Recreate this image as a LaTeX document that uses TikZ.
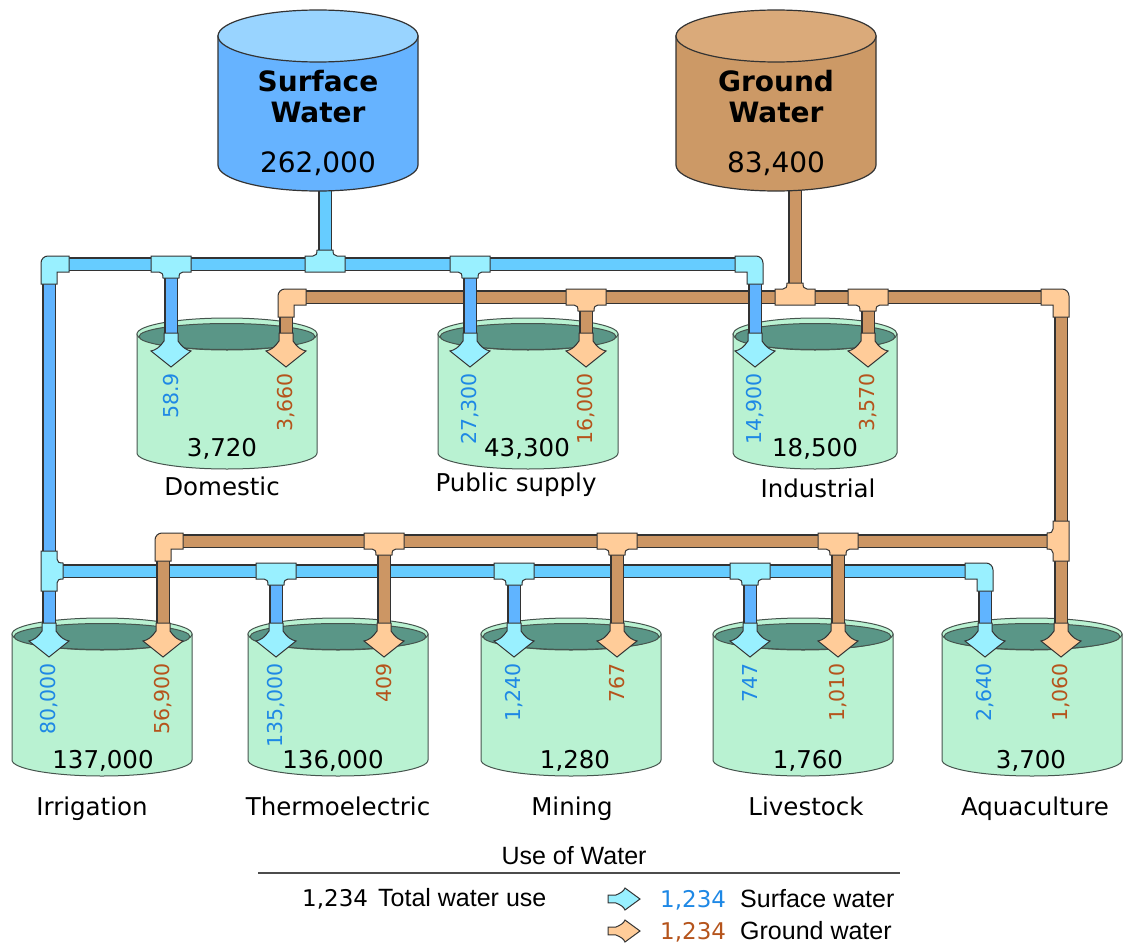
\documentclass[tikz,border=0pt]{standalone}
\usepackage{fontspec}
\setmainfont{DejaVu Sans}
\newfontfamily\arialfont{Liberation Sans}

\definecolor{swbody}{RGB}{102,179,255}
\definecolor{swtop}{RGB}{153,212,255}
\definecolor{gwbody}{RGB}{204,153,102}
\definecolor{gwtop}{RGB}{218,170,122}
\definecolor{pipesw}{RGB}{102,204,255}
\definecolor{pipeswdown}{RGB}{96,180,255}
\definecolor{pipegw}{RGB}{204,150,100}
\definecolor{fitsw}{RGB}{153,240,255}
\definecolor{fitgw}{RGB}{255,204,153}
\definecolor{usebody}{RGB}{185,242,210}
\definecolor{usewater}{RGB}{90,150,135}
\definecolor{swtext}{RGB}{30,136,229}
\definecolor{gwtext}{RGB}{181,84,28}
\definecolor{rim}{RGB}{70,85,78}

\tikzset{
  rimline/.style={draw=rim, line width=1},
  swpipe/.style={line width=1.3, draw=black!80, double=pipesw, double distance=11},
  swdrop/.style={swpipe, double=pipeswdown},
  gwpipe/.style={line width=1.3, draw=black!80, double=pipegw, double distance=11},
  tee/.pic={
    \draw[line width=1, draw=black!80, pic actions] (-20,-8) -- (20,-8) -- (20,8) -- (12,8)
      .. controls (9,8) and (8,10) .. (8,14) -- (-8,14)
      .. controls (-8,10) and (-9,8) .. (-12,8) -- (-20,8) -- cycle;
  },
  elbow/.pic={
    \draw[line width=1, draw=black!80, pic actions] (20,-8) -- (-1,-8)
      arc[start angle=-90, end angle=-180, radius=7] -- (-8,20) -- (8,20) -- (8,8) -- (20,8) -- cycle;
  },
  inlet/.pic={
    \draw[line width=1, draw=black!80, pic actions] (-7,-34) -- (-7,-26)
      .. controls (-11,-20) and (-15,-17) .. (-20,-16) -- (0,0) -- (20,-16)
      .. controls (15,-17) and (11,-20) .. (7,-26) -- (7,-34) -- cycle;
  },
  srctext/.style={font=\fontsize{28}{30}\selectfont\bfseries, anchor=base, inner sep=0},
  srcnum/.style={font=\fontsize{28}{30}\selectfont, anchor=base, inner sep=0},
  flownum/.style={font=\fontsize{20.5}{22}\selectfont, rotate=90, anchor=east, inner sep=0},
  totnum/.style={font=\fontsize{24.5}{26}\selectfont, anchor=base, inner sep=0},
  uselabel/.style={font=\fontsize{24.5}{26}\selectfont, anchor=base, inner sep=0},
  legendtext/.style={font=\arialfont\fontsize{25}{27}\selectfont, anchor=base west, inner sep=0},
  legendnum/.style={font=\fontsize{23}{25}\selectfont, anchor=base west, inner sep=0},
}

% closed drum: centre x, top y, bottom y, body colour, lid colour
\newcommand\sourcedrum[5]{
  \draw[line width=1.2, draw=black!80, fill=#4] (#1-100,#2) -- (#1-100,#3)
    arc[start angle=180, end angle=0, x radius=100, y radius=26] -- (#1+100,#2) -- cycle;
  \draw[line width=1.2, draw=black!80, fill=#5] (#1,#2) ellipse[x radius=100, y radius=26];
}
% open tank: centre x, top y, bottom y, x radius
\newcommand\usedrum[4]{
  \draw[rimline, fill=usebody] (#1-#4,#2) -- (#1-#4,#3)
    arc[start angle=180, end angle=0, x radius=#4, y radius=16] -- (#1+#4,#2) -- cycle;
  \draw[rimline, fill=usebody] (#1,#2) ellipse[x radius=#4, y radius=16];
  \draw[rimline, fill=usewater] (#1,#2+2.5) ellipse[x radius=#4-2, y radius=13];
}

\begin{document}
\begin{tikzpicture}[x=1pt, y=-1pt]
\useasboundingbox (0,0) rectangle (1124,950);

\coordinate (sw) at (325,264);
\coordinate (gw) at (795,297);
\draw[swpipe] (325,150) -- (sw);
\draw[gwpipe] (795,150) -- (gw);

\sourcedrum{318}{36}{165}{swbody}{swtop}
\sourcedrum{776}{36}{165}{gwbody}{gwtop}
\node[srctext] (sw-name1) at (318,92) {Surface};
\node[srctext] (sw-name2) at (318,122) {Water};
\node[srcnum] (sw-total) at (318,172) {262,000};
\node[srctext] (gw-name1) at (776,92) {Ground};
\node[srctext] (gw-name2) at (776,122) {Water};
\node[srcnum] (gw-total) at (776,172) {83,400};

\foreach \cx/\rx in {227/90, 528/90, 815/82} {\usedrum{\cx}{334}{453}{\rx}}
\foreach \cx in {102, 338, 571, 803, 1032} {\usedrum{\cx}{634}{760}{90}}

% ground water, upper main
\draw[gwpipe] (286,297) -- (1061,297);
\foreach \x in {286, 586, 868} \draw[gwpipe] (\x,297) -- (\x,334);
\draw[gwpipe] (1061,297) -- (1061,624);
\pic[fill=fitgw] at (286,297) {elbow};
\pic[fill=fitgw, xscale=-1] at (1061,297) {elbow};
\foreach \x in {586, 868} \pic[fill=fitgw] at (\x,297) {tee};
\pic[fill=fitgw, rotate=180] at (gw) {tee};

% surface water, upper main
\draw[swpipe] (49,264) -- (755,264);
\draw[swdrop] (49,264) -- (49,624);
\foreach \x in {171, 470, 755} \draw[swdrop] (\x,264) -- (\x,334);
\pic[fill=fitsw] at (49,264) {elbow};
\pic[fill=fitsw, xscale=-1] at (755,264) {elbow};
\foreach \x in {171, 470} \pic[fill=fitsw] at (\x,264) {tee};
\pic[fill=fitsw, rotate=180] at (sw) {tee};

% surface water, lower main
\draw[swpipe] (49,571) -- (985,571);
\foreach \x in {276, 514, 750, 985} \draw[swdrop] (\x,571) -- (\x,624);
\pic[fill=fitsw, rotate=90] at (49,571) {tee};
\foreach \x in {276, 514, 750} \pic[fill=fitsw] at (\x,571) {tee};
\pic[fill=fitsw, xscale=-1] at (985,571) {elbow};

% ground water, lower main
\draw[gwpipe] (163,541) -- (1061,541);
\foreach \x in {163, 384, 617, 838} \draw[gwpipe] (\x,541) -- (\x,624);
\pic[fill=fitgw] at (163,541) {elbow};
\foreach \x in {384, 617, 838} \pic[fill=fitgw] at (\x,541) {tee};
\pic[fill=fitgw, rotate=-90] at (1061,541) {tee};

% inlets
\foreach \x in {171, 470, 755} \pic[fill=fitsw] at (\x,367) {inlet};
\foreach \x in {286, 586, 868} \pic[fill=fitgw] at (\x,367) {inlet};
\foreach \x in {49, 276, 514, 750, 985} \pic[fill=fitsw] at (\x,657) {inlet};
\foreach \x in {163, 384, 617, 838, 1061} \pic[fill=fitgw] at (\x,657) {inlet};

\foreach \sx/\gx/\sv/\gv/\tx/\tot/\lx/\lab/\ly/\nm in {
  171/286/58.9/{3,660}/222/{3,720}/222/Domestic/495/dom,
  470/586/{27,300}/{16,000}/527/{43,300}/516/Public supply/491/pub,
  755/868/{14,900}/{3,570}/815/{18,500}/818/Industrial/497/ind}
{
  \node[flownum, text=swtext] (\nm-sw) at (\sx,373) {\sv};
  \node[flownum, text=gwtext] (\nm-gw) at (\gx,373) {\gv};
  \node[totnum] (\nm-tot) at (\tx,456) {\tot};
  \node[uselabel] (\nm) at (\lx,\ly) {\lab};
}

\foreach \sx/\gx/\sv/\gv/\tx/\tot/\lx/\lab/\nm in {
  49/163/{80,000}/{56,900}/103/{137,000}/92/Irrigation/irr,
  276/384/{135,000}/409/333/{136,000}/338/Thermoelectric/thm,
  514/617/{1,240}/767/575/{1,280}/572/Mining/min,
  750/838/747/{1,010}/808/{1,760}/806/Livestock/liv,
  985/1061/{2,640}/{1,060}/1031/{3,700}/1035/Aquaculture/aqu}
{
  \node[flownum, text=swtext] (\nm-sw) at (\sx,663) {\sv};
  \node[flownum, text=gwtext] (\nm-gw) at (\gx,663) {\gv};
  \node[totnum] (\nm-tot) at (\tx,768) {\tot};
  \node[uselabel] (\nm) at (\lx,815) {\lab};
}

% key
\node[font=\arialfont\fontsize{25}{27}\selectfont, anchor=base, inner sep=0] (key-title) at (574,864) {Use of Water};
\coordinate (rule-l) at (258,873);
\coordinate (rule-r) at (900,873);
\draw[line width=2, draw=black!70] (rule-l) -- (rule-r);
\node[legendnum] (key-tot) at (302,906) {1,234};
\node[legendtext] (key-tot-txt) at (378,906) {Total water use};
\pic[fill=fitsw, rotate=90, xscale=.55, yscale=.94] at (640,899) {inlet};
\pic[fill=fitgw, rotate=90, xscale=.55, yscale=.94] at (640,931) {inlet};
\node[legendnum, text=swtext] (key-sw) at (660,907) {1,234};
\node[legendtext] (key-sw-txt) at (740,907) {Surface water};
\node[legendnum, text=gwtext] (key-gw) at (660,939) {1,234};
\node[legendtext] (key-gw-txt) at (740,939) {Ground water};
\end{tikzpicture}
\end{document}
